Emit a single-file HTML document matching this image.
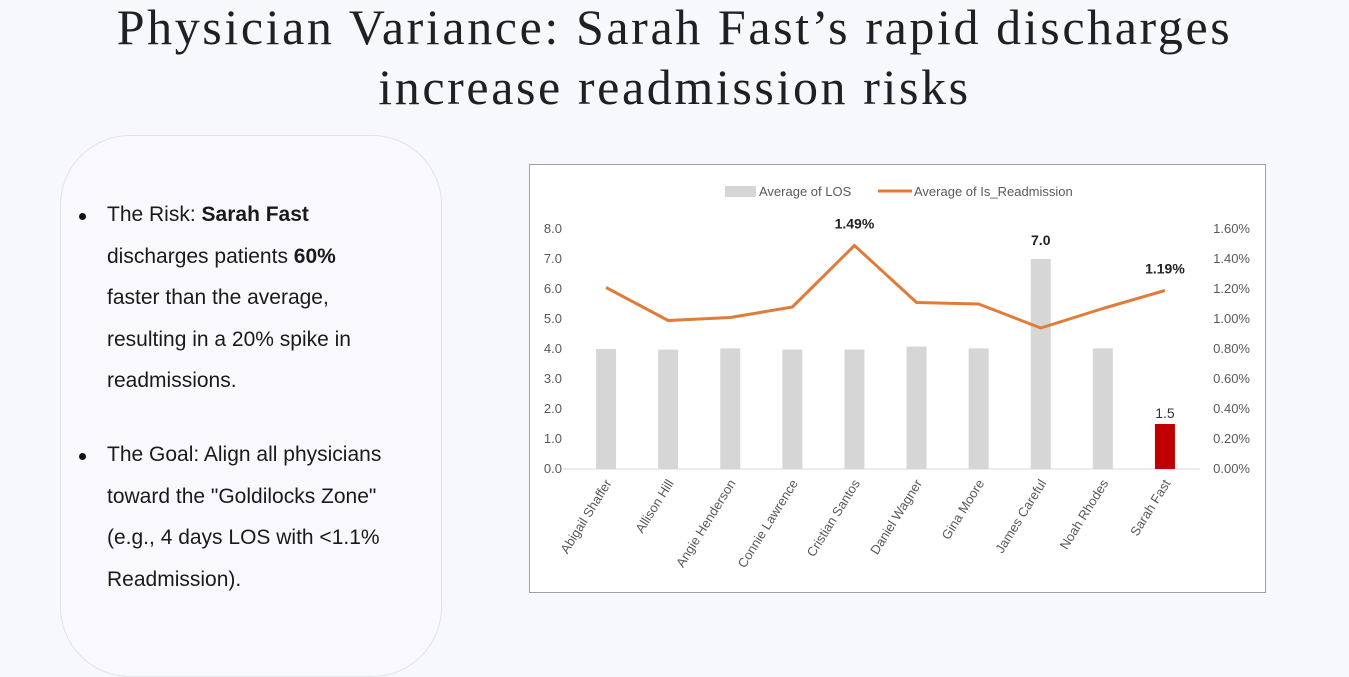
<!DOCTYPE html>
<html><head><meta charset="utf-8">
<style>
body{margin:0;width:1349px;height:637px;background:#f7f8fc;overflow:hidden;position:relative;font-family:"Liberation Sans",sans-serif;}
.title{position:absolute;left:0;width:1349px;top:-3px;text-align:center;font-family:"Liberation Serif",serif;font-size:50px;line-height:60px;color:#1f1f24;letter-spacing:2.6px;white-space:nowrap;}
.panel{position:absolute;left:60px;top:135px;width:380px;height:540px;border:1px solid #e2e3ea;border-radius:70px;background:#f9f9fd;}
.b{position:absolute;left:107px;font-size:21px;line-height:41.5px;color:#1a1a1a;white-space:nowrap;}
.dot{position:absolute;left:79px;width:7px;height:7px;border-radius:50%;background:#111;}
.chart{position:absolute;left:529px;top:164px;width:735px;height:427px;border:1px solid #a0a0a0;background:#fff;}
</style></head><body>
<div class="title">Physician Variance: Sarah Fast’s rapid discharges<br>increase readmission risks</div>
<div class="panel"></div>
<div class="dot" style="top:213px"></div>
<div class="b" style="top:194px">The Risk: <b>Sarah Fast</b><br>discharges patients <b>60%</b><br>faster than the average,<br>resulting in a 20% spike in<br>readmissions.</div>
<div class="dot" style="top:453px"></div>
<div class="b" style="top:434px">The Goal: Align all physicians<br>toward the "Goldilocks Zone"<br>(e.g., 4 days LOS with &lt;1.1%<br>Readmission).</div>
<div class="chart"></div>
<svg id="c" width="1349" height="637" style="position:absolute;left:0;top:0"></svg>
<script>
const categories=["Abigail Shaffer","Allison Hill","Angie Henderson","Connie Lawrence","Cristian Santos","Daniel Wagner","Gina Moore","James Careful","Noah Rhodes","Sarah Fast"];
const losValues=[4.0,3.98,4.02,3.98,3.98,4.08,4.02,7.0,4.02,1.5];
const readmitValues=[1.21,0.99,1.01,1.08,1.49,1.11,1.10,0.94,1.07,1.19];
const leftTicks=[0,1,2,3,4,5,6,7,8];
const rightTicks=[0,0.2,0.4,0.6,0.8,1.0,1.2,1.4,1.6];
const NS="http://www.w3.org/2000/svg";
const svg=document.getElementById('c');
const x0=575,x1=1196,yb=469,yt=229;
const xc=i=>x0+(x1-x0)/categories.length*(i+0.5);
const yL=v=>yb-(v/8)*(yb-yt);
const yR=v=>yb-(v/1.6)*(yb-yt);
function mk(t,a,txt){const e=document.createElementNS(NS,t);for(const k in a)e.setAttribute(k,a[k]);if(txt!=null)e.textContent=txt;svg.appendChild(e);return e;}
leftTicks.forEach(v=>{const e=mk('text',{x:562,y:yL(v)+4,'text-anchor':'end','font-size':13,fill:'#595959','font-family':'Liberation Sans'},v.toFixed(1));

});
rightTicks.forEach(v=>{const e=mk('text',{x:1250,y:yR(v)+4,'text-anchor':'end','font-size':13,fill:'#595959','font-family':'Liberation Sans'},v.toFixed(2)+'%');

});
const ax=mk('line',{x1:x0-12,x2:x1+4,y1:yb,y2:yb,stroke:'#d9d9d9','stroke-width':1});


losValues.forEach((v,i)=>{const r=mk('rect',{x:xc(i)-10,y:yL(v),width:20,height:yb-yL(v),fill:i===9?'#c00000':'#d6d6d6'});

});
categories.forEach((c,i)=>{const t=mk('text',{x:xc(i)+6,y:yb+14,'text-anchor':'end','font-size':13,fill:'#595959','font-family':'Liberation Sans',transform:`rotate(-58 ${xc(i)+6} ${yb+14})`},c);

});
const pl=mk('polyline',{points:readmitValues.map((v,i)=>xc(i)+','+yR(v)).join(' '),fill:'none',stroke:'#e07b39','stroke-width':3,'stroke-linejoin':'round'});


[[4,readmitValues[4].toFixed(2)+'%',yR(readmitValues[4])-17],[9,readmitValues[9].toFixed(2)+'%',yR(readmitValues[9])-17]].forEach(([i,s,y])=>{const t=mk('text',{x:xc(i),y:y,'text-anchor':'middle','font-size':14,'font-weight':'bold',fill:'#222','font-family':'Liberation Sans'},s);

});
const l7=mk('text',{x:xc(7),y:yL(losValues[7])-14,'text-anchor':'middle','font-size':14,'font-weight':'bold',fill:'#222','font-family':'Liberation Sans'},losValues[7].toFixed(1));


const l9=mk('text',{x:xc(9),y:yL(losValues[9])-6,'text-anchor':'middle','font-size':14,fill:'#333','font-family':'Liberation Sans'},losValues[9].toFixed(1));


const lg1=mk('rect',{x:725,y:186,width:31,height:11,fill:'#d6d6d6'});


const lt1=mk('text',{x:759,y:196,'font-size':13,fill:'#595959','font-family':'Liberation Sans'},'Average of LOS');


const lg2=mk('line',{x1:878,x2:912,y1:191,y2:191,stroke:'#e07b39','stroke-width':3});


const lt2=mk('text',{x:914,y:196,'font-size':13,fill:'#595959','font-family':'Liberation Sans'},'Average of Is_Readmission');


</script>
</body></html>
